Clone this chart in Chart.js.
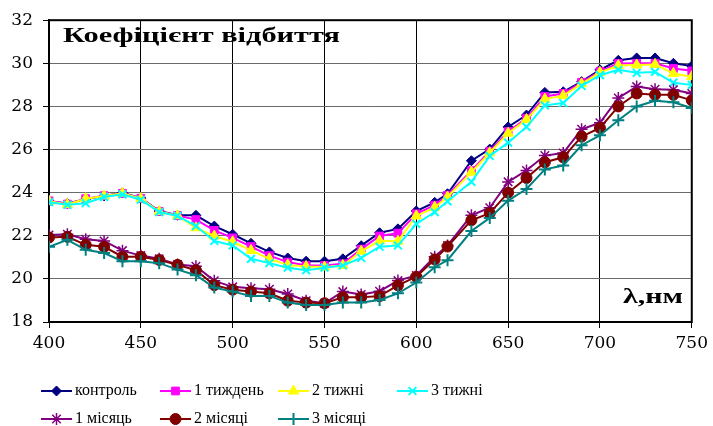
<!DOCTYPE html>
<html>
<head>
<meta charset="utf-8">
<script src="https://cdn.jsdelivr.net/npm/chart.js@4.4.1/dist/chart.umd.min.js"></script>
<style>
  html, body { margin: 0; padding: 0; background: #fff; }
  #wrap { width: 713px; height: 426px; position: relative; }
</style>
</head>
<body>
<div id="wrap"><canvas id="chart" width="713" height="426"></canvas></div>
<script>
// Wavelengths, nm
const wavelengths = [400, 410, 420, 430, 440, 450, 460, 470, 480, 490, 500, 510, 520, 530, 540, 550,
  560, 570, 580, 590, 600, 610, 617, 630, 640, 650, 660, 670, 680, 690, 700, 710, 720, 730, 740, 750];

// Reflection coefficient for each sample
const control = [23.6, 23.5, 23.7, 23.85, 24.0, 23.75, 23.15, 22.95, 22.95, 22.45, 22.07, 21.65, 21.25, 20.97, 20.82, 20.82,
  20.93, 21.54, 22.14, 22.32, 23.15, 23.55, 23.95, 25.48, 26.02, 27.05, 27.6, 28.65, 28.68, 29.15, 29.7, 30.14, 30.25, 30.25, 30.0, 29.88];
const week1 = [23.62, 23.47, 23.72, 23.86, 23.97, 23.74, 23.13, 22.94, 22.75, 22.25, 21.9, 21.5, 21.08, 20.78, 20.62, 20.62,
  20.7, 21.38, 21.99, 22.12, 23.02, 23.42, 23.88, 25.02, 25.92, 26.83, 27.45, 28.46, 28.6, 29.12, 29.62, 29.99, 30.0, 30.0, 29.76, 29.65];
const week2 = [23.6, 23.45, 23.72, 23.85, 23.97, 23.72, 23.12, 22.93, 22.37, 21.99, 21.72, 21.32, 20.93, 20.65, 20.58, 20.55,
  20.62, 21.28, 21.77, 21.75, 22.92, 23.32, 23.8, 24.95, 25.85, 26.76, 27.39, 28.34, 28.5, 29.05, 29.58, 29.9, 29.92, 29.95, 29.53, 29.38];
const week3 = [23.56, 23.44, 23.51, 23.8, 23.92, 23.67, 23.1, 22.92, 22.45, 21.76, 21.55, 20.93, 20.73, 20.52, 20.4, 20.52,
  20.62, 20.97, 21.49, 21.55, 22.55, 23.1, 23.6, 24.5, 25.7, 26.32, 27.05, 28.05, 28.16, 28.95, 29.45, 29.7, 29.56, 29.6, 29.1, 29.0];
const month1 = [22.04, 22.07, 21.84, 21.76, 21.31, 21.08, 20.93, 20.67, 20.59, 19.91, 19.63, 19.57, 19.52, 19.3, 18.99, 18.87,
  19.41, 19.28, 19.43, 19.92, 20.16, 21.03, 21.55, 22.95, 23.3, 24.5, 25.03, 25.72, 25.84, 26.94, 27.24, 28.39, 28.92, 28.8, 28.77, 28.6];
const month2 = [21.92, 21.95, 21.58, 21.49, 21.03, 21.03, 20.88, 20.65, 20.4, 19.71, 19.5, 19.41, 19.33, 18.99, 18.9, 18.87,
  19.15, 19.15, 19.2, 19.7, 20.1, 20.9, 21.5, 22.72, 23.05, 24.0, 24.68, 25.41, 25.64, 26.6, 27.0, 28.0, 28.6, 28.54, 28.54, 28.28];
const month3 = [21.49, 21.81, 21.35, 21.2, 20.82, 20.82, 20.73, 20.43, 20.17, 19.6, 19.41, 19.21, 19.21, 18.9, 18.79, 18.79,
  18.9, 18.9, 19.02, 19.33, 19.83, 20.54, 20.87, 22.22, 22.83, 23.63, 24.17, 25.08, 25.26, 26.2, 26.66, 27.36, 28.0, 28.26, 28.19, 27.93];

const seriesNames = ['контроль', '1 тиждень', '2 тижні', '3 тижні', '1 місяць', '2 місяці', '3 місяці'];
const seriesValues = [control, week1, week2, week3, month1, month2, month3];

const yTicks = { min: 18, max: 32, step: 2 };
const xTicks = { min: 400, max: 750, step: 50 };

const chartTitle = 'Коефіцієнт відбиття';
const axisLabel = 'λ,нм';

const SERIF = "'Liberation Serif', serif";
const WIDE_SERIF = "'DejaVu Serif', serif";

const styles = [
  { color: '#000080', pointStyle: 'rectRot', radius: 5, pbw: 1 },
  { color: '#FF00FF', pointStyle: 'rect', radius: 5.5, pbw: 1 },
  { color: '#FFFF00', pointStyle: 'triangle', radius: 6, pbw: 1 },
  { color: '#00FFFF', pointStyle: 'crossRot', radius: 5.5, pbw: 2 },
  { color: '#800080', pointStyle: 'star', radius: 6, pbw: 1.5 },
  { color: '#800000', pointStyle: 'circle', radius: 5.5, pbw: 1 },
  { color: '#008080', pointStyle: 'cross', radius: 6, pbw: 2 }
];

const datasets = seriesValues.map((vals, i) => ({
  label: seriesNames[i],
  data: wavelengths.map((x, k) => ({ x: x, y: vals[k] })),
  showLine: true,
  borderColor: styles[i].color,
  backgroundColor: styles[i].color,
  borderWidth: 2,
  pointStyle: styles[i].pointStyle,
  pointRadius: styles[i].radius,
  pointBorderWidth: styles[i].pbw,
  pointBackgroundColor: styles[i].color,
  pointBorderColor: styles[i].color,
  tension: 0,
  order: seriesValues.length - 1 - i
}));

// Frame around the plot area
const framePlugin = {
  id: 'frame',
  beforeDatasetsDraw(chart) {
    const { ctx, chartArea: a } = chart;
    ctx.save();
    ctx.strokeStyle = '#000';
    ctx.lineWidth = 2;
    ctx.strokeRect(a.left, a.top, a.right - a.left, a.bottom - a.top);
    ctx.restore();
  }
};

// Draws text squeezed or stretched horizontally to a given width
function fitText(ctx, text, x, y, width) {
  const w = ctx.measureText(text).width;
  ctx.save();
  ctx.translate(x, y);
  ctx.scale(width / w, 1);
  ctx.fillText(text, 0, 0);
  ctx.restore();
}

// Title inside the plot, axis caption and legend grid
const textPlugin = {
  id: 'texts',
  afterDraw(chart) {
    const { ctx } = chart;
    ctx.save();
    ctx.fillStyle = '#000';
    ctx.textBaseline = 'middle';
    ctx.textAlign = 'left';
    ctx.font = 'bold 22px ' + SERIF;
    fitText(ctx, chartTitle, 63, 36, 277);
    ctx.font = 'bold 21px ' + SERIF;
    fitText(ctx, axisLabel, 623, 298, 60);

    const cols = [41, 160, 278, 397];
    const rows = [391, 419];
    ctx.font = '16px ' + SERIF;
    datasets.forEach((ds, i) => {
      const x0 = cols[i % 4];
      const y0 = rows[Math.floor(i / 4)];
      ctx.strokeStyle = ds.borderColor;
      ctx.lineWidth = 2;
      ctx.beginPath();
      ctx.moveTo(x0, y0);
      ctx.lineTo(x0 + 31, y0);
      ctx.stroke();
      ctx.fillStyle = ds.pointBackgroundColor;
      ctx.strokeStyle = ds.pointBorderColor;
      ctx.lineWidth = ds.pointBorderWidth;
      Chart.helpers.drawPoint(ctx, {
        pointStyle: ds.pointStyle,
        radius: ds.pointRadius,
        borderWidth: ds.pointBorderWidth,
        rotation: 0
      }, x0 + 15.5, y0);
      ctx.fillStyle = '#000';
      ctx.fillText(ds.label, x0 + 34, y0);
    });
    ctx.restore();
  }
};

new Chart(document.getElementById('chart'), {
  type: 'scatter',
  data: { datasets },
  options: {
    responsive: false,
    animation: false,
    layout: { padding: { top: 16, right: 19, bottom: 74, left: 0 } },
    plugins: {
      legend: { display: false },
      tooltip: { enabled: false },
      title: { display: false }
    },
    scales: {
      x: {
        type: 'linear',
        min: xTicks.min,
        max: xTicks.max,
        afterFit(scale) { scale.height = 30; },
        grid: { color: '#000', lineWidth: 1, tickLength: 6, tickColor: '#000' },
        border: { color: '#000', width: 2 },
        ticks: {
          stepSize: xTicks.step,
          padding: 5,
          color: '#000',
          font: { family: WIDE_SERIF, size: 17 },
          maxRotation: 0
        }
      },
      y: {
        min: yTicks.min,
        max: yTicks.max,
        afterFit(scale) { scale.width = 49; },
        grid: { color: '#6a6a6a', lineWidth: 1, tickLength: 6, tickColor: '#000' },
        border: { color: '#000', width: 2 },
        ticks: {
          stepSize: yTicks.step,
          padding: 10,
          color: '#000',
          font: { family: WIDE_SERIF, size: 17 }
        }
      }
    }
  },
  plugins: [framePlugin, textPlugin]
});
</script>
</body>
</html>
